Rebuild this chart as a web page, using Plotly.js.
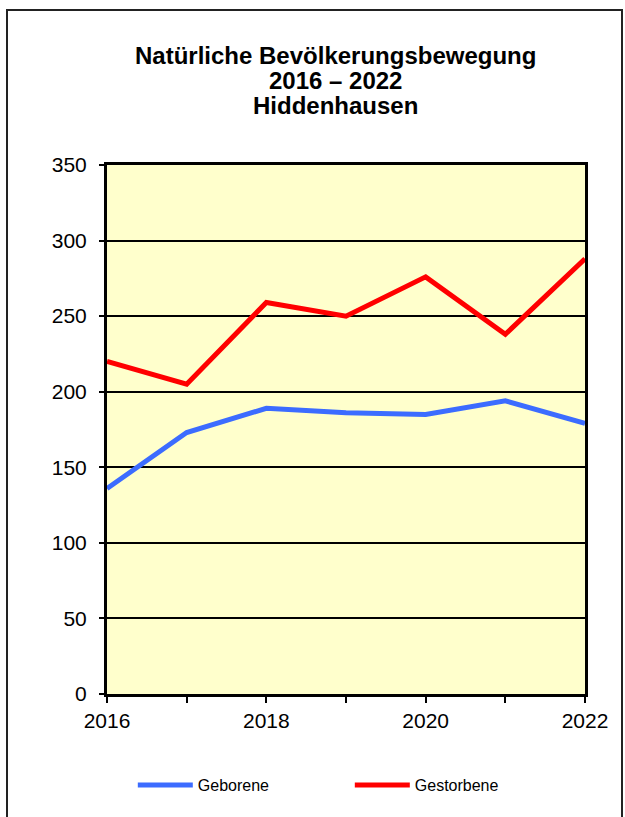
<!DOCTYPE html>
<html>
<head>
<meta charset="utf-8">
<script src="https://cdn.plot.ly/plotly-3.0.1.min.js"></script>
<style>
  body { margin: 0; background: #fff; }
  #chart { width: 625px; height: 817px; }
</style>
</head>
<body>
<div id="chart"></div>
<script>
var years = [2016, 2017, 2018, 2019, 2020, 2021, 2022];
var yearLabels = ['2016', '', '2018', '', '2020', '', '2022'];
var geborene = [136, 173, 189, 186, 185, 194, 179];
var gestorbene = [220, 205, 259, 250, 276, 238, 288];
var titleLines = ['Natürliche Bevölkerungsbewegung', '2016 – 2022', 'Hiddenhausen'];

var font = 'Liberation Sans, Arial, sans-serif';

var data = [{
    x: years,
    y: geborene,
    type: 'scatter',
    mode: 'lines',
    name: 'Geborene',
    line: {color: '#3c6cff', width: 5}
},
    {
        x: years,
        y: gestorbene,
        type: 'scatter',
        mode: 'lines',
        name: 'Gestorbene',
        line: {color: '#ff0000', width: 5}
    }];

// title lines as annotations, Excel-style tight line spacing
var titleCenters = [55, 80, 105];
var annotations = titleLines.map(function (t, i) {
    return {
        text: '<b>' + t + '</b>',
        xref: 'paper',
        yref: 'paper',
        x: (335 - 107) / 478,
        y: (694 - titleCenters[i]) / 529,
        xanchor: 'center',
        yanchor: 'middle',
        showarrow: false,
        font: {family: font, size: 24, color: '#000'}
    };
});

var layout = {
    width: 625,
    height: 817,
    margin: {l: 107, r: 40, t: 165, b: 123},
    paper_bgcolor: '#ffffff',
    plot_bgcolor: '#ffffcc',
    font: {family: font, color: '#000', size: 21},
    annotations: annotations,
    xaxis: {
        range: [2016, 2022],
        tickvals: years,
        ticktext: yearLabels,
        ticks: 'outside',
        ticklen: 6,
        tickwidth: 2,
        tickcolor: '#000',
        showline: true,
        linecolor: '#000',
        linewidth: 3,
        mirror: true,
        showgrid: false,
        zeroline: false,
        tickfont: {size: 21},
        fixedrange: true
    },
    yaxis: {
        range: [0, 350],
        dtick: 50,
        ticks: 'outside',
        ticklen: 5,
        tickwidth: 2,
        tickcolor: '#000',
        showline: true,
        linecolor: '#000',
        linewidth: 3,
        mirror: true,
        showgrid: true,
        gridcolor: '#000',
        gridwidth: 2,
        zeroline: false,
        tickfont: {size: 21},
        ticklabelstandoff: 8,
        fixedrange: true
    },
    showlegend: true,
    legend: {
        orientation: 'h',
        x: 0.054,
        xanchor: 'left',
        y: -0.172,
        yanchor: 'middle',
        font: {family: font, size: 16, color: '#000'},
        entrywidth: 147,
        entrywidthmode: 'pixels',
        itemwidth: 55,
        bgcolor: 'rgba(0,0,0,0)'
    },
    shapes: [{
        type: 'rect',
        xref: 'paper',
        yref: 'paper',
        x0: -0.2092,
        x1: 1.0774,
        y0: -0.4,
        y1: 1.293,
        line: {color: '#222', width: 2},
        layer: 'below'
    }]
};

Plotly.newPlot('chart', data, layout, {displayModeBar: false, staticPlot: true});
</script>
</body>
</html>
